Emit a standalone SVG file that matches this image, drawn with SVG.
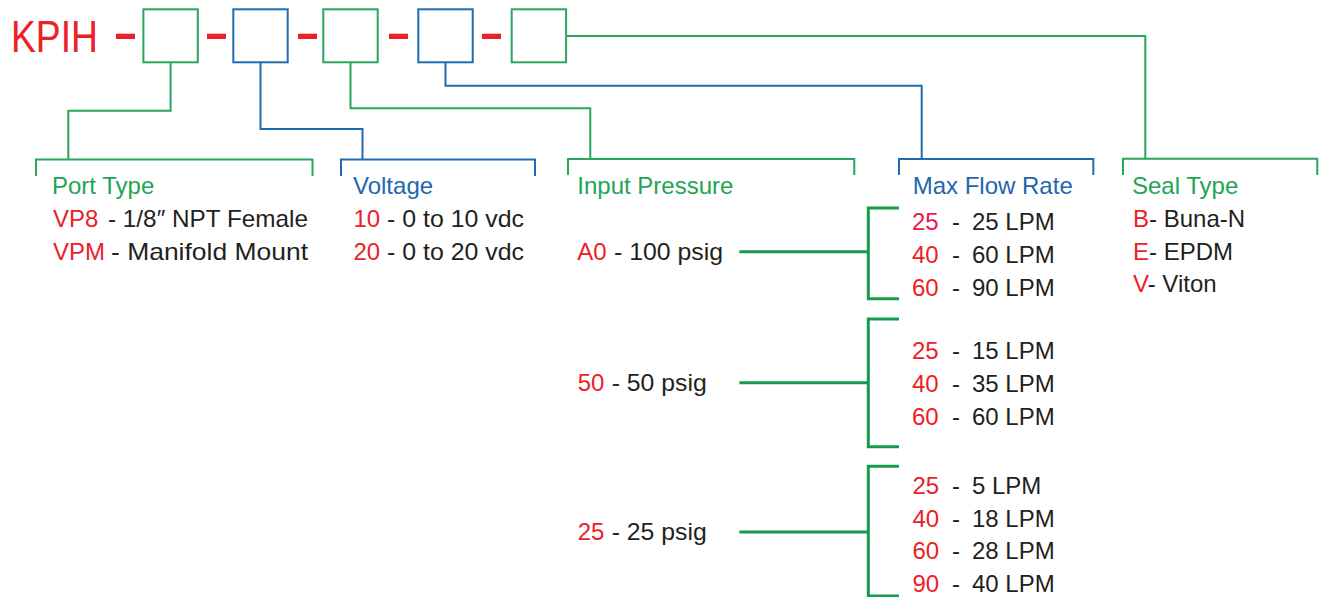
<svg xmlns="http://www.w3.org/2000/svg" width="1325" height="597" viewBox="0 0 1325 597">
<style>
text{font-family:"Liberation Sans",Arial,sans-serif;font-size:24px;fill:#231f20}
.r{fill:#ec2027}
.g{fill:#23a455}
.b{fill:#1f66ad}
.bx{fill:#fff;stroke-width:2}
.gs{stroke:#2aa55e}
.bs{stroke:#1f6db0}
.ln{fill:none;stroke-width:2}
.tk{fill:none;stroke:#169b4b;stroke-width:3}
.dash{fill:#ec2027}
</style>
<rect width="1325" height="597" fill="#fff"/>
<g id="title">
<text x="11" y="52" class="r" style="font-size:45px" textLength="87" lengthAdjust="spacingAndGlyphs">KPIH</text>
<rect class="dash" x="116" y="33.7" width="19" height="5.3"/>
<rect class="dash" x="207" y="33.7" width="19" height="5.3"/>
<rect class="dash" x="298" y="33.7" width="19" height="5.3"/>
<rect class="dash" x="389" y="33.7" width="19" height="5.3"/>
<rect class="dash" x="482" y="33.7" width="19" height="5.3"/>
</g>
<g id="box1"><rect class="bx gs" x="143.4" y="9.3" width="54.4" height="53"/></g>
<g id="box2"><rect class="bx bs" x="233.3" y="9.3" width="54.4" height="53"/></g>
<g id="box3"><rect class="bx gs" x="323.3" y="9.3" width="54.4" height="53"/></g>
<g id="box4"><rect class="bx bs" x="418.3" y="9.3" width="54.4" height="53"/></g>
<g id="box5"><rect class="bx gs" x="511.7" y="9.3" width="54.4" height="53"/></g>
<g id="connectors">
<path class="ln gs" d="M170.6,62.3 V110.7 H68.3 V159.5"/>
<path class="ln bs" d="M260.5,62.3 V129 H362.5 V159.5"/>
<path class="ln gs" d="M350.5,62.3 V108.3 H590.3 V159"/>
<path class="ln bs" d="M445.5,62.3 V85.7 H921.7 V159"/>
<path class="ln gs" d="M566.1,36 H1145.3 V158.7"/>
<path class="ln gs" d="M36,176 V159.5 H312.5 V176"/>
<path class="ln bs" d="M341,176 V159.5 H535 V176"/>
<path class="ln gs" d="M568,175 V159 H854.3 V175"/>
<path class="ln bs" d="M899,175 V159 H1093.3 V175"/>
<path class="ln gs" d="M1123,175 V158.7 H1317.3 V175"/>
<path class="tk" d="M739.3,251.7 H868.3 M899,208 H868.3 V298.7 H899"/>
<path class="tk" d="M739.3,382.7 H868.3 M899,319 H868.3 V446.7 H899"/>
<path class="tk" d="M739.3,532 H868.3 M899,466.3 H868.3 V596 H899"/>
</g>
<g id="port-type">
<text x="52" y="194" class="g">Port Type</text>
<text x="53" y="227.3" class="r">VP8</text>
<text x="108" y="227.3" textLength="200" lengthAdjust="spacingAndGlyphs">- 1/8″ NPT Female</text>
<text x="53" y="259.5" class="r">VPM</text>
<text x="111" y="259.5" textLength="197" lengthAdjust="spacingAndGlyphs">- Manifold Mount</text>
</g>
<g id="voltage">
<text x="353" y="194" class="b">Voltage</text>
<text x="353.5" y="227.3" class="r">10</text>
<text x="387" y="227.3" textLength="137" lengthAdjust="spacingAndGlyphs">- 0 to 10 vdc</text>
<text x="353.5" y="259.5" class="r">20</text>
<text x="387" y="259.5" textLength="137" lengthAdjust="spacingAndGlyphs">- 0 to 20 vdc</text>
</g>
<g id="input-pressure">
<text x="577.3" y="193.5" class="g">Input Pressure</text>
<text x="577.3" y="259.5" class="r">A0</text>
<text x="614" y="259.5" textLength="109" lengthAdjust="spacingAndGlyphs">- 100 psig</text>
<text x="577.7" y="390.7" class="r">50</text>
<text x="611.7" y="390.7" textLength="95" lengthAdjust="spacingAndGlyphs">- 50 psig</text>
<text x="577.7" y="540" class="r">25</text>
<text x="611.7" y="540" textLength="95" lengthAdjust="spacingAndGlyphs">- 25 psig</text>
</g>
<g id="max-flow-rate">
<text x="912.7" y="193.5" class="b">Max Flow Rate</text>
<text x="912" y="230" style="fill:#e8184a">25</text><text x="952" y="230">-</text><text x="972" y="230">25 LPM</text>
<text x="912" y="263" class="r">40</text><text x="952" y="263">-</text><text x="972" y="263">60 LPM</text>
<text x="912" y="296" class="r">60</text><text x="952" y="296">-</text><text x="972" y="296">90 LPM</text>
<text x="912" y="359.3" class="r">25</text><text x="952" y="359.3">-</text><text x="972" y="359.3">15 LPM</text>
<text x="912" y="392" class="r">40</text><text x="952" y="392">-</text><text x="972" y="392">35 LPM</text>
<text x="912" y="425" class="r">60</text><text x="952" y="425">-</text><text x="972" y="425">60 LPM</text>
<text x="912.5" y="494" class="r">25</text><text x="952" y="494">-</text><text x="972" y="494">5 LPM</text>
<text x="912.5" y="526.7" class="r">40</text><text x="952" y="526.7">-</text><text x="972" y="526.7">18 LPM</text>
<text x="912.5" y="559.3" class="r">60</text><text x="952" y="559.3">-</text><text x="972" y="559.3">28 LPM</text>
<text x="912.5" y="591.7" class="r">90</text><text x="952" y="591.7">-</text><text x="972" y="591.7">40 LPM</text>
</g>
<g id="seal-type">
<text x="1132" y="193.5" class="g">Seal Type</text>
<text x="1133" y="227.3"><tspan class="r">B</tspan>- Buna-N</text>
<text x="1133" y="259.5"><tspan class="r">E</tspan>- EPDM</text>
<text x="1133" y="292"><tspan class="r">V</tspan>- Viton</text>
</g>
</svg>
